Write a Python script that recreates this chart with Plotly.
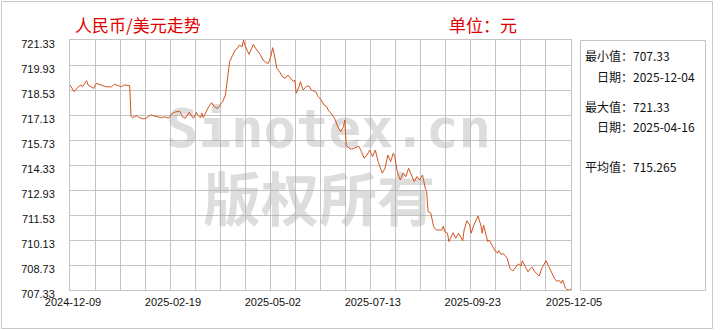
import pandas as pd
import plotly.graph_objects as go

# ---------------- data ----------------
start_date = "2024-12-09"
end_date = "2025-12-05"
day_offsets = [0, 1, 3, 6, 8, 9, 12, 13, 15, 17, 19, 23, 26, 30, 32, 35, 37, 39, 42, 43,
               44, 45, 48, 50, 53, 55, 58, 61, 63, 66, 68, 71, 73, 75, 79, 81, 83, 86, 88, 89,
               91, 92, 94, 95, 96, 98, 100, 102, 104, 106, 107, 109, 110, 112, 114, 115, 117, 119, 121, 122,
               124, 125, 126, 128, 129, 131, 132, 134, 137, 139, 142, 143, 145, 146, 147, 149, 151, 153, 155, 157,
               159, 161, 162, 163, 165, 166, 168, 170, 172, 174, 177, 179, 181, 183, 185, 186, 189, 191, 193, 195,
               197, 198, 199, 201, 203, 205, 208, 210, 212, 214, 216, 218, 220, 222, 225, 227, 229, 231, 233, 234,
               236, 238, 240, 242, 244, 246, 248, 250, 252, 254, 255, 256, 257, 258, 260, 262, 264, 268, 269, 270,
               272, 273, 276, 278, 280, 282, 283, 284, 286, 288, 289, 291, 292, 294, 296, 297, 298, 299, 301, 302,
               304, 306, 308, 309, 311, 312, 315, 317, 319, 321, 323, 325, 326, 328, 330, 332, 333, 335, 337, 338,
               340, 343, 345, 347, 349, 351, 352, 354, 355, 357, 358, 360, 361]
rates = [718.81, 718.66, 718.43, 718.71, 718.81, 718.71, 719.05, 718.81, 718.71, 718.62, 718.90, 718.81, 718.71, 718.71, 718.85, 718.77, 718.71, 718.81, 718.81, 718.78,
         717.05, 716.98, 717.09, 716.98, 716.91, 716.95, 717.13, 717.07, 717.03, 716.98, 717.03, 716.95, 717.17, 717.28, 717.35, 717.03, 716.95, 717.28, 717.03, 716.95,
         717.28, 717.13, 716.98, 717.23, 716.98, 717.31, 717.60, 717.82, 717.60, 717.51, 717.54, 717.79, 717.87, 718.25, 719.37, 720.11, 720.45, 720.77, 720.90, 721.05,
         720.95, 721.33, 721.05, 720.67, 720.53, 720.87, 721.09, 720.83, 720.53, 720.21, 720.03, 720.03, 720.49, 720.90, 720.59, 719.75, 719.56, 719.28, 719.19, 719.37,
         719.19, 719.00, 719.09, 718.35, 718.71, 719.00, 718.53, 718.71, 718.77, 718.53, 718.43, 718.15, 717.97, 717.69, 717.60, 717.41, 717.13, 716.89, 716.47, 716.19,
         716.47, 716.85, 715.45, 715.27, 715.21, 715.27, 715.39, 715.08, 714.71, 714.89, 715.17, 714.80, 715.17, 714.52, 713.87, 714.15, 714.89, 714.52, 714.99, 714.80,
         713.87, 713.49, 713.87, 713.68, 714.15, 713.77, 713.40, 713.68, 713.49, 713.77, 713.31, 713.03, 712.84, 711.72, 711.63, 710.88, 710.69, 710.69, 710.91, 710.60,
         710.51, 710.04, 710.54, 710.23, 710.51, 710.17, 710.09, 710.69, 711.21, 710.97, 710.51, 710.97, 711.16, 711.47, 710.97, 710.51, 710.97, 710.69, 710.04, 710.13,
         709.85, 709.57, 709.39, 709.53, 709.29, 709.39, 709.11, 708.55, 708.39, 708.60, 708.79, 708.67, 708.97, 708.64, 708.35, 708.55, 708.60, 708.35, 708.17, 708.11,
         708.55, 708.97, 708.64, 708.27, 707.99, 707.80, 707.89, 707.71, 707.89, 707.43, 707.36, 707.33, 707.40]

x_tick_labels = ["2024-12-09", "2025-02-19", "2025-05-02", "2025-07-13", "2025-09-23", "2025-12-05"]
y_ticks = [707.33, 708.73, 710.13, 711.53, 712.93, 714.33, 715.73, 717.13, 718.53, 719.93, 721.33]

title_text = "人民币/美元走势"
unit_text = "单位：元"
stat_min_value = "707.33"
stat_min_date = "2025-12-04"
stat_max_value = "721.33"
stat_max_date = "2025-04-16"
stat_mean_value = "715.265"
watermark_1 = "Sinotex.cn"
watermark_2 = "版权所有"

# ---------------- build ----------------
t0 = pd.Timestamp(start_date)
t1 = pd.Timestamp(end_date)
dates = t0 + pd.to_timedelta(day_offsets, unit="D")
span = t1 - t0

L, R, T, B = 70, 149, 40, 40
W, H = 720, 330
PW, PH = W - L - R, H - T - B


def px(x):
    return (x - L) / PW


def py(y):
    return (H - B - y) / PH


ymin, ymax = y_ticks[0], y_ticks[-1]

fig = go.Figure()

# watermark (drawn first, under the line)
fig.add_trace(go.Scatter(
    x=[t0 + span * 0.516, t0 + span * 0.497],
    y=[ymin + (ymax - ymin) * 0.625, ymin + (ymax - ymin) * 0.335],
    mode="text",
    text=[watermark_1, watermark_2],
    textfont=dict(family=["DejaVu Sans Mono", "Noto Sans CJK SC"], size=[54, 58],
                  color="rgba(170,170,170,0.4)", weight="bold"),
    hoverinfo="skip", cliponaxis=False, showlegend=False,
))

fig.add_trace(go.Scatter(
    x=dates, y=rates, mode="lines",
    line=dict(color="#d2541e", width=1),
    hoverinfo="skip", showlegend=False,
))

fig.update_xaxes(
    type="date",
    range=[t0, t1],
    tickmode="array",
    tickvals=pd.to_datetime(x_tick_labels),
    ticktext=x_tick_labels,
    showgrid=False,
    minor=dict(showgrid=True, gridcolor="#c4c4c4", gridwidth=1,
               tick0=t0, dtick=span.total_seconds() * 1000 / 20, ticks=""),
    showline=True, linecolor="#c4c4c4", linewidth=1, mirror=True,
    ticks="", ticklabelstandoff=2, ticklabelshift=3,
    tickfont=dict(family="Liberation Sans", size=11, color="#111"),
    zeroline=False,
)
fig.update_yaxes(
    range=[ymin, ymax],
    tickmode="array",
    tickvals=y_ticks,
    ticktext=[f"{v:.2f}" for v in y_ticks],
    showgrid=True, gridcolor="#c4c4c4", gridwidth=1,
    showline=True, linecolor="#c4c4c4", linewidth=1, mirror=True,
    ticks="", ticklabelstandoff=12, ticklabelshift=4,
    tickfont=dict(family="Liberation Sans", size=11, color="#111"),
    zeroline=False,
)

shapes = [
    # outer frame
    dict(type="rect", xref="paper", yref="paper",
         x0=px(1.5), x1=px(712.5), y0=py(328.5), y1=py(1.5),
         line=dict(color="#c8c8c8", width=1), fillcolor="rgba(0,0,0,0)", layer="below"),
    # stats panel box
    dict(type="rect", xref="paper", yref="paper",
         x0=px(580.5), x1=px(705.5), y0=py(290.5), y1=py(40.5),
         line=dict(color="#c4c4c4", width=1), fillcolor="rgba(0,0,0,0)"),
]

cjk = "Noto Sans CJK SC"
annotations = [
    dict(text=title_text, x=px(73), y=py(25), xref="paper", yref="paper",
         xanchor="left", yanchor="middle", showarrow=False,
         font=dict(family=cjk, size=17, color="#e00000")),
    dict(text=unit_text, x=px(447), y=py(25), xref="paper", yref="paper",
         xanchor="left", yanchor="middle", showarrow=False,
         font=dict(family=cjk, size=17, color="#e00000")),
]
panel_lines = [
    ("最小值：" + stat_min_value, 583, 56),
    ("日期：" + stat_min_date, 595, 76),
    ("最大值：" + stat_max_value, 583, 106),
    ("日期：" + stat_max_date, 595, 126),
    ("平均值：" + stat_mean_value, 583, 166),
]
for txt, xx, yy in panel_lines:
    annotations.append(dict(text=txt, x=px(xx), y=py(yy), xref="paper", yref="paper",
                            xanchor="left", yanchor="middle", showarrow=False,
                            font=dict(family=cjk, size=12, color="#111")))

fig.update_layout(
    width=W, height=H,
    margin=dict(l=L, r=R, t=T, b=B),
    paper_bgcolor="white", plot_bgcolor="white",
    showlegend=False,
    shapes=shapes,
    annotations=annotations,
    hovermode=False,
)

fig.write_html("out.html")
